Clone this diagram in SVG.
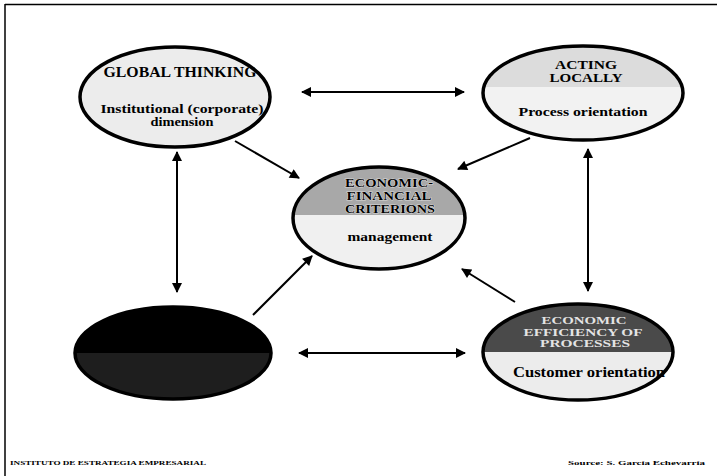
<svg xmlns="http://www.w3.org/2000/svg" width="717" height="476" viewBox="0 0 717 476">
<style>
.el{stroke:#000;stroke-width:3.5;fill:none}
.t{font-family:"Liberation Serif","Times New Roman",serif;font-weight:bold;text-anchor:middle;fill:#000}
.h{font-size:12px;stroke:#fff;stroke-width:0.6;paint-order:stroke}
.w{font-size:9.5px;fill:#e4e4e4}
.s{font-size:12.5px}
.c{stroke:#000;stroke-width:2;fill:none}
.f{font-family:"Liberation Serif","Times New Roman",serif;font-weight:bold;font-size:7px;fill:#000}
</style>
<defs>
<marker id="ah" viewBox="0 0 10 10" refX="9" refY="5" markerWidth="5.5" markerHeight="5" orient="auto-start-reverse" markerUnits="strokeWidth">
<path d="M0,0 L10,5 L0,10 Z" fill="#000"/>
</marker>
<clipPath id="cAL"><ellipse cx="583" cy="93" rx="100" ry="47"/></clipPath>
<clipPath id="cEC"><ellipse cx="379" cy="218" rx="86" ry="51"/></clipPath>
<clipPath id="cBR"><ellipse cx="578" cy="352" rx="95" ry="48"/></clipPath>
<clipPath id="cBL"><ellipse cx="173" cy="353" rx="98" ry="46"/></clipPath>
</defs>
<g id="frame">
<line x1="5" y1="4.5" x2="717" y2="4.5" stroke="#000" stroke-width="1.5"/>
<line x1="5" y1="4" x2="5" y2="476" stroke="#000" stroke-width="1.5"/>
</g>
<g id="connectors">
<line class="c" x1="302" y1="92" x2="464" y2="92" marker-start="url(#ah)" marker-end="url(#ah)"/>
<line class="c" x1="299" y1="353" x2="465" y2="353" marker-start="url(#ah)" marker-end="url(#ah)"/>
<line class="c" x1="177" y1="152" x2="177" y2="292" marker-start="url(#ah)" marker-end="url(#ah)"/>
<line class="c" x1="588" y1="149" x2="588" y2="291" marker-start="url(#ah)" marker-end="url(#ah)"/>
<line class="c" x1="235" y1="141" x2="299" y2="178" marker-end="url(#ah)"/>
<line class="c" x1="530" y1="138" x2="458" y2="169" marker-end="url(#ah)"/>
<line class="c" x1="253" y1="315" x2="312" y2="256" marker-end="url(#ah)"/>
<line class="c" x1="515" y1="302" x2="462" y2="269" marker-end="url(#ah)"/>
</g>
<g id="global-thinking">
<ellipse cx="175" cy="97" rx="95" ry="50" fill="#ececec"/>
<ellipse class="el" cx="175" cy="97" rx="95" ry="50"/>
<text class="t" x="180" y="77" font-size="14" textLength="153" lengthAdjust="spacingAndGlyphs">GLOBAL THINKING</text>
<text class="t s" x="182" y="113" textLength="163" lengthAdjust="spacingAndGlyphs">Institutional (corporate)</text>
<text class="t s" x="182" y="126" textLength="63" lengthAdjust="spacingAndGlyphs">dimension</text>
</g>
<g id="acting-locally">
<g clip-path="url(#cAL)">
<rect x="480" y="40" width="210" height="47" fill="#dcdcdc"/>
<rect x="480" y="87" width="210" height="60" fill="#f2f2f2"/>
</g>
<ellipse class="el" cx="583" cy="93" rx="100" ry="47"/>
<text class="t" x="586" y="69" font-size="12" textLength="62" lengthAdjust="spacingAndGlyphs">ACTING</text>
<text class="t" x="586" y="82" font-size="12" textLength="73" lengthAdjust="spacingAndGlyphs">LOCALLY</text>
<text class="t s" x="583" y="116" textLength="129" lengthAdjust="spacingAndGlyphs">Process orientation</text>
</g>
<g id="economic-financial">
<g clip-path="url(#cEC)">
<rect x="290" y="165" width="180" height="50" fill="#a8a8a8"/>
<rect x="290" y="215" width="180" height="60" fill="#f0f0f0"/>
</g>
<ellipse class="el" cx="379" cy="218" rx="86" ry="51"/>
<text class="t h" x="389" y="187" textLength="88" lengthAdjust="spacingAndGlyphs">ECONOMIC-</text>
<text class="t h" x="389" y="200" textLength="85" lengthAdjust="spacingAndGlyphs">FINANCIAL</text>
<text class="t h" x="390" y="213" textLength="90" lengthAdjust="spacingAndGlyphs">CRITERIONS</text>
<text class="t s" x="390" y="241" textLength="85" lengthAdjust="spacingAndGlyphs">management</text>
</g>
<g id="economic-efficiency">
<g clip-path="url(#cBR)">
<rect x="480" y="300" width="200" height="52" fill="#4a4a4a"/>
<rect x="480" y="352" width="200" height="52" fill="#ececec"/>
</g>
<ellipse class="el" cx="578" cy="352" rx="95" ry="48"/>
<text class="t w" x="584" y="324" textLength="85" lengthAdjust="spacingAndGlyphs">ECONOMIC</text>
<text class="t w" x="583" y="335.5" textLength="119" lengthAdjust="spacingAndGlyphs">EFFICIENCY OF</text>
<text class="t w" x="585" y="347" textLength="90" lengthAdjust="spacingAndGlyphs">PROCESSES</text>
<text class="t" x="589" y="377" font-size="14" textLength="152" lengthAdjust="spacingAndGlyphs">Customer orientation</text>
</g>
<g id="dark-node">
<g clip-path="url(#cBL)">
<rect x="70" y="300" width="210" height="53" fill="#000"/>
<rect x="70" y="353" width="210" height="50" fill="#1e1e1e"/>
</g>
<ellipse class="el" cx="173" cy="353" rx="98" ry="46"/>
</g>
<g id="footer">
<text class="f" x="10" y="465" textLength="196" lengthAdjust="spacingAndGlyphs">INSTITUTO DE ESTRATEGIA EMPRESARIAL</text>
<text class="f" x="568" y="465" textLength="137" lengthAdjust="spacingAndGlyphs">Source: S. García Echevarría</text>
</g>
</svg>
